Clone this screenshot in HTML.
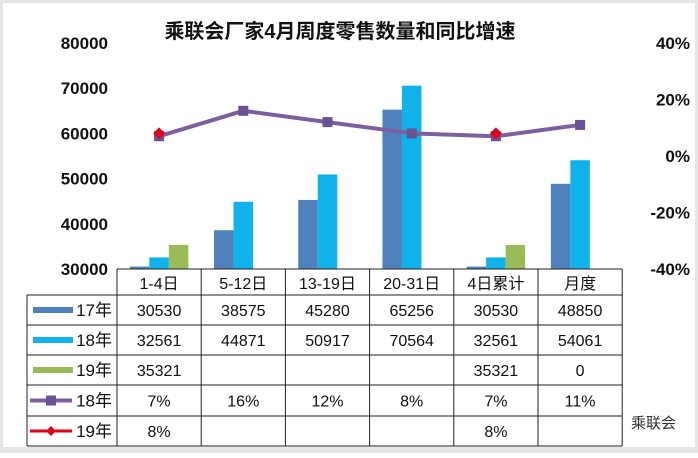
<!DOCTYPE html>
<html><head><meta charset="utf-8"><style>
body{margin:0;width:698px;height:453px;overflow:hidden;background:#fff;font-family:"Liberation Sans","Noto Sans CJK SC",sans-serif}
</style></head><body>
<svg id="c" width="698" height="453" xmlns="http://www.w3.org/2000/svg">
<rect x="0" y="0" width="698" height="453" fill="#e6e6e6"/>
<rect x="3" y="3" width="692" height="444" fill="#fff"/>
<text x="340" y="38" text-anchor="middle" font-size="20" font-weight="bold" fill="#111">乘联会厂家4月周度零售数量和同比增速</text>
<g id="g"></g>
</svg>
<script>
const categories=["1-4日","5-12日","13-19日","20-31日","4日累计","月度"];
const s17=[30530,38575,45280,65256,30530,48850];
const s18=[32561,44871,50917,70564,32561,54061];
const s19=[35321,null,null,null,35321,0];
const g18=[7,16,12,8,7,11];
const g19=[8,null,null,null,8,null];
const leftTicks=[30000,40000,50000,60000,70000,80000];
const rightTicks=[-40,-20,0,20,40];
const ns="http://www.w3.org/2000/svg";
const g=document.getElementById('g');
function el(t,a,txt){const e=document.createElementNS(ns,t);for(const k in a)e.setAttribute(k,a[k]);if(txt!=null)e.textContent=txt;g.appendChild(e);return e;}
const y0=269,y1=43;
function yL(v){return y0-(v-30000)/50000*(y0-y1);}
function yR(p){return y0-(p+40)/80*(y0-y1);}
const colL=117,colW=84.2;
function xC(i){return colL+colW*(i+0.5);}
const colors=["#4f81bd","#0fb2ea","#9bbb59"];
const series=[s17,s18,s19];
leftTicks.forEach(t=>{const e=el('text',{x:108,y:yL(t)+6,'text-anchor':'end','font-size':17,'font-weight':'bold',fill:'#111'},String(t));
});
rightTicks.forEach(t=>{const e=el('text',{x:690,y:yR(t)+6,'text-anchor':'end','font-size':17,'font-weight':'bold',fill:'#111'},t+'%');
});
const bw=19.5;
series.forEach((s,si)=>{s.forEach((v,i)=>{if(v==null||v<=30000)return;
const x=xC(i)-1.5*bw+si*bw;const y=yL(v);
const r=el('rect',{x:x,y:y,width:bw,height:y0-y,fill:colors[si]});
});});
let pts=g18.map((v,i)=>xC(i)+','+yR(v)).join(' ');
const pl=el('polyline',{points:pts,fill:'none',stroke:'#7b5fa0','stroke-width':4});

g18.forEach((v,i)=>{const m=el('rect',{x:xC(i)-5,y:yR(v)-5,width:10,height:10,fill:'#6a5294'});
});
g19.forEach((v,i)=>{if(v==null)return;const x=xC(i),y=yR(v);
const m=el('polygon',{points:`${x},${y-6} ${x+6},${y} ${x},${y+6} ${x-6},${y}`,fill:'#e3001b'});
});
const rows=[295,325,355,385,416,446];
const right=colL+colW*6;
const lc='#222';
function line(x1,y1,x2,y2){const l=el('line',{x1,y1,x2,y2,stroke:lc,'stroke-width':1});}
line(colL,y0,right,y0);
rows.forEach(r=>line(27,r,right,r));
line(27,rows[0],27,rows[5]);
for(let i=0;i<=6;i++)line(colL+colW*i,y0,colL+colW*i,rows[5]);
categories.forEach((c,i)=>{const t=el('text',{x:xC(i),y:289,'text-anchor':'middle','font-size':16,fill:'#111'},c);
});
const rowLabels=["17年","18年","19年","18年","19年"];
const rowData=[s17,s18,s19,g18.map(v=>v+'%'),g19.map(v=>v==null?null:v+'%')];
rowData.forEach((d,ri)=>{const cy=(rows[ri]+rows[ri+1])/2+6;
d.forEach((v,i)=>{if(v==null)return;const t=el('text',{x:xC(i),y:cy,'text-anchor':'middle','font-size':16,fill:'#111'},String(v));
});
const lt=el('text',{x:112,y:cy,'text-anchor':'end','font-size':17,fill:'#111'},rowLabels[ri]);

const my=cy-6;
if(ri<3){const k=el('rect',{x:33,y:my-3,width:40,height:6,fill:colors[ri]});}
else if(ri==3){const k=el('line',{x1:30,y1:my,x2:72,y2:my,stroke:'#7b5fa0','stroke-width':4});
const k2=el('rect',{x:46,y:my-5,width:10,height:10,fill:'#6a5294'});}
else{const k=el('line',{x1:30,y1:my,x2:72,y2:my,stroke:'#e3001b','stroke-width':3});
const k2=el('polygon',{points:`51,${my-5} 56,${my} 51,${my+5} 46,${my}`,fill:'#e3001b'});}
});
const wm=el('text',{x:676,y:428,'text-anchor':'end','font-size':15,fill:'#333'},'乘联会');

</script>
</body></html>
